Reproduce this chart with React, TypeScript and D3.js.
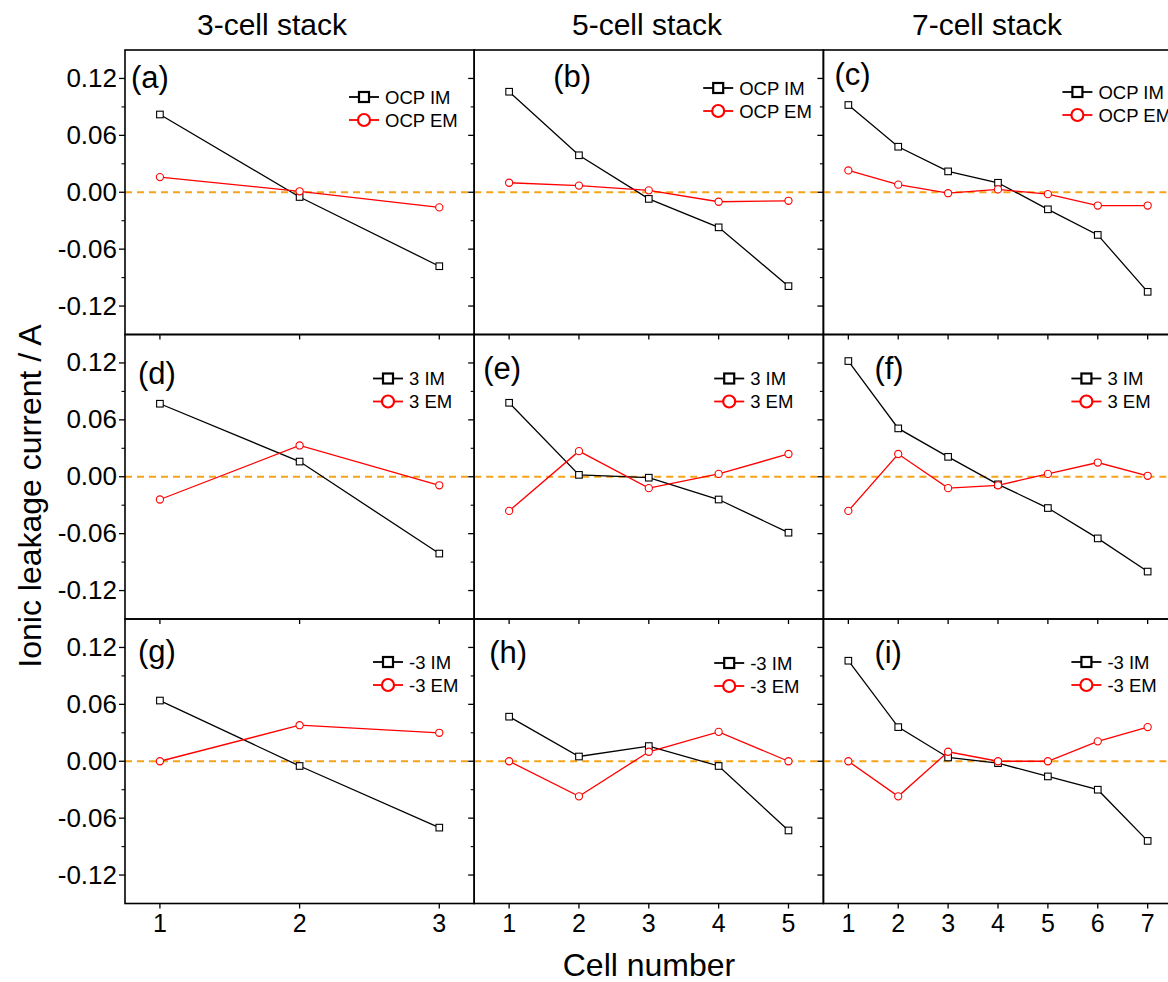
import * as d3 from "d3";

// cell numbers per stack
const cells3 = [1, 2, 3];
const cells5 = [1, 2, 3, 4, 5];
const cells7 = [1, 2, 3, 4, 5, 6, 7];

// OCP
const ocpIM3 = [0.082, -0.005, -0.078];
const ocpEM3 = [0.016, 0.001, -0.016];
const ocpIM5 = [0.106, 0.039, -0.007, -0.037, -0.099];
const ocpEM5 = [0.010, 0.007, 0.002, -0.010, -0.009];
const ocpIM7 = [0.092, 0.048, 0.022, 0.010, -0.018, -0.045, -0.105];
const ocpEM7 = [0.023, 0.008, -0.001, 0.003, -0.002, -0.014, -0.014];

// +3
const pos3IM3 = [0.077, 0.016, -0.081];
const pos3EM3 = [-0.024, 0.033, -0.009];
const pos3IM5 = [0.078, 0.002, -0.001, -0.024, -0.059];
const pos3EM5 = [-0.036, 0.027, -0.012, 0.003, 0.024];
const pos3IM7 = [0.122, 0.051, 0.021, -0.008, -0.033, -0.065, -0.1];
const pos3EM7 = [-0.036, 0.024, -0.012, -0.009, 0.003, 0.015, 0.001];

// -3
const neg3IM3 = [0.064, -0.005, -0.07];
const neg3EM3 = [0.0, 0.038, 0.03];
const neg3IM5 = [0.047, 0.005, 0.016, -0.005, -0.073];
const neg3EM5 = [0.0, -0.037, 0.01, 0.031, 0.0];
const neg3IM7 = [0.106, 0.036, 0.004, -0.002, -0.016, -0.03, -0.084];
const neg3EM7 = [0.0, -0.037, 0.01, 0.0, 0.0, 0.021, 0.036];

const columnTitles = ["3-cell stack", "5-cell stack", "7-cell stack"];
const legendIM = ["OCP IM", "3 IM", "-3 IM"];
const legendEM = ["OCP EM", "3 EM", "-3 EM"];
const panelLetters = ["(a)", "(b)", "(c)", "(d)", "(e)", "(f)", "(g)", "(h)", "(i)"];
const yMajor = [-0.12, -0.06, 0, 0.06, 0.12];
const yMinor = [-0.09, -0.03, 0.03, 0.09];

const colCells = [cells3, cells5, cells7];
const imRows = [
  [ocpIM3, ocpIM5, ocpIM7],
  [pos3IM3, pos3IM5, pos3IM7],
  [neg3IM3, neg3IM5, neg3IM7],
];
const emRows = [
  [ocpEM3, ocpEM5, ocpEM7],
  [pos3EM3, pos3EM5, pos3EM7],
  [neg3EM3, neg3EM5, neg3EM7],
];

// layout
const W = 1168;
const H = 982;
const left0 = 125;
const colW = 349.2;
const top0 = 50;
const rowH = 284.5;
const font = "'Liberation Sans', Arial, Helvetica, sans-serif";

// per-panel label / legend placement (offset from panel top-left)
const labelPos = [
  [6, 38], [79, 37], [11, 35],
  [13, 49], [9, 44], [51, 44],
  [13, 43], [15, 44], [51, 44],
];
const legendPos = [
  [224, 47], [229, 38], [239, 42],
  [248, 44], [240, 44], [248, 44],
  [248, 43], [240, 44], [248, 43],
];
const titleX = [272, 647, 987];

function Panel({ row, col }: { row: number; col: number }) {
  const idx = row * 3 + col;
  const px = left0 + col * colW;
  const py = top0 + row * rowH;
  const cells = colCells[col];
  const n = cells.length;

  const x = d3
    .scaleLinear()
    .domain(n === 3 ? [0.75, 3.25] : [0.5, n + 0.5])
    .range([px, px + colW]);
  const y = d3.scaleLinear().domain([-0.15, 0.15]).range([py + rowH, py]);

  const im = imRows[row][col].map((v, i) => ({ c: cells[i], v }));
  const em = emRows[row][col].map((v, i) => ({ c: cells[i], v }));
  const line = d3
    .line<{ c: number; v: number }>()
    .x((d) => x(d.c))
    .y((d) => y(d.v));

  const [lx, ly] = labelPos[idx];
  const [gx, gy] = legendPos[idx];
  const legX = px + gx;
  const legY = py + gy;
  const rowGap = 23;

  return (
    <g>
      {/* zero line */}
      <line
        x1={px}
        x2={px + colW}
        y1={y(0)}
        y2={y(0)}
        stroke="#f5a31a"
        strokeWidth={2}
        strokeDasharray="7,5"
      />
      <path d={line(im) || ""} fill="none" stroke="#000" strokeWidth={1.3} />
      {im.map((d, i) => (
        <rect
          key={"s" + i}
          x={x(d.c) - 3.3}
          y={y(d.v) - 3.3}
          width={6.6}
          height={6.6}
          fill="#fff"
          stroke="#000"
          strokeWidth={1.1}
        />
      ))}
      <path d={line(em) || ""} fill="none" stroke="#ff0000" strokeWidth={1.3} />
      {em.map((d, i) => (
        <circle
          key={"c" + i}
          cx={x(d.c)}
          cy={y(d.v)}
          r={3.6}
          fill="#fff"
          stroke="#ff0000"
          strokeWidth={1.1}
        />
      ))}

      {/* left axis ticks (outward) */}
      {yMajor.map((t) => (
        <line key={"ym" + t} x1={px - 6} x2={px} y1={y(t)} y2={y(t)} stroke="#000" strokeWidth={1.3} />
      ))}
      {yMinor.map((t) => (
        <line key={"yn" + t} x1={px - 3.5} x2={px} y1={y(t)} y2={y(t)} stroke="#000" strokeWidth={1.1} />
      ))}
      {/* bottom axis ticks (outward) */}
      {cells.map((c) => (
        <line key={"xt" + c} x1={x(c)} x2={x(c)} y1={py + rowH} y2={py + rowH + 5} stroke="#000" strokeWidth={1.3} />
      ))}

      {col === 0 &&
        yMajor.map((t) => (
          <text
            key={"yl" + t}
            x={px - 8}
            y={y(t) + 8.5}
            textAnchor="end"
            fontSize={26}
            fontFamily={font}
            fill="#000"
          >
            {t.toFixed(2)}
          </text>
        ))}
      {row === 2 &&
        cells.map((c) => (
          <text
            key={"xl" + c}
            x={x(c)}
            y={py + rowH + 28.5}
            textAnchor="middle"
            fontSize={25}
            fontFamily={font}
            fill="#000"
          >
            {c}
          </text>
        ))}

      <rect x={px} y={py} width={colW} height={rowH} fill="none" stroke="#000" strokeWidth={1.6} />

      <text x={px + lx} y={py + ly} fontSize={31} fontFamily={font} fill="#000">
        {panelLetters[idx]}
      </text>

      {/* legend */}
      <line x1={legX} x2={legX + 30} y1={legY} y2={legY} stroke="#000" strokeWidth={1.8} />
      <rect x={legX + 10} y={legY - 5} width={10} height={10} fill="#fff" stroke="#000" strokeWidth={2.2} />
      <text x={legX + 36} y={legY + 6.6} fontSize={18.5} fontFamily={font} fill="#000">
        {legendIM[row]}
      </text>
      <line x1={legX} x2={legX + 30} y1={legY + rowGap} y2={legY + rowGap} stroke="#ff0000" strokeWidth={1.8} />
      <circle cx={legX + 15} cy={legY + rowGap} r={6} fill="#fff" stroke="#ff0000" strokeWidth={2.2} />
      <text x={legX + 36} y={legY + rowGap + 6.6} fontSize={18.5} fontFamily={font} fill="#000">
        {legendEM[row]}
      </text>
    </g>
  );
}

export default function App() {
  const panels = [];
  for (let r = 0; r < 3; r++) {
    for (let c = 0; c < 3; c++) {
      panels.push(<Panel key={r + "-" + c} row={r} col={c} />);
    }
  }
  return (
    <svg
      width={W}
      height={H}
      viewBox={`0 0 ${W} ${H}`}
      style={{ position: "absolute", left: 0, top: 0, background: "#fff" }}
    >
      <rect x={0} y={0} width={W} height={H} fill="#fff" />
      {columnTitles.map((t, i) => (
        <text key={t} x={titleX[i]} y={35} textAnchor="middle" fontSize={30} fontFamily={font} fill="#000">
          {t}
        </text>
      ))}
      {panels}
      <text
        transform="translate(41,496) rotate(-90)"
        textAnchor="middle"
        fontSize={32}
        fontFamily={font}
        fill="#000"
      >
        Ionic leakage current / A
      </text>
      <text x={649} y={976} textAnchor="middle" fontSize={32} fontFamily={font} fill="#000">
        Cell number
      </text>
    </svg>
  );
}
